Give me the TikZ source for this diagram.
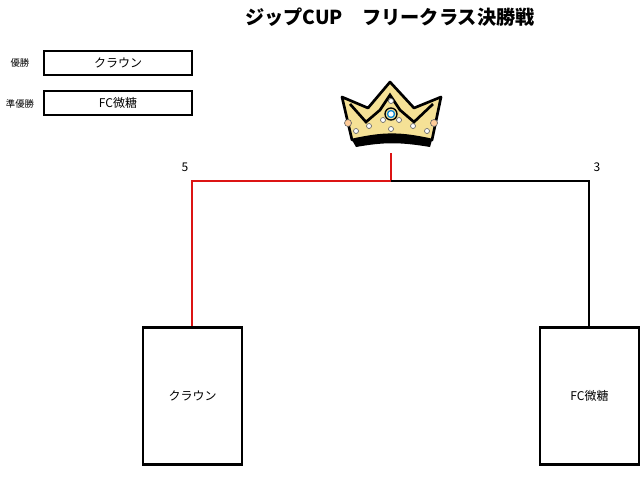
\documentclass[tikz,border=0pt]{standalone}
\usepackage{fontspec}
\setmainfont{Noto Sans CJK JP}
\definecolor{crownfill}{RGB}{245,225,150}
\definecolor{redl}{RGB}{220,20,20}
\begin{document}
\begin{tikzpicture}[x=0.75pt,y=-0.75pt,
  box/.style={draw,line width=0.8pt,minimum height=18pt,inner sep=0pt,font=\small},
  team/.style={draw,line width=1.8pt,inner sep=0pt,font=\small},
  lbl/.style={font=\scriptsize},
  jewel/.style={draw=black!60,fill=white,line width=0.5pt}]
\useasboundingbox (0,0) rectangle (641,476);
\node[font=\bfseries\Large] (title) at (390,17) {ジップCUP　フリークラス決勝戦};
\node[lbl] (l1) at (20,63) {優勝};
\node[lbl] (l2) at (20,104) {準優勝};
\node[box,minimum width=111pt] (w) at (118,63) {クラウン};
\node[box,minimum width=111pt] (r) at (118,103) {FC微糖};
% crown
\filldraw[fill=crownfill,line width=2pt,line join=round]
 (342,97) -- (368,108) -- (390,82) -- (414,108) -- (441,97) -- (432,140)
 .. controls (400,133) and (384,133) .. (352,140) -- cycle;
\draw[line width=2pt] (350,104) -- (366,122) -- (380,110) -- (390,95) -- (400,110) -- (414,122) -- (433,104);
\fill (352,140) .. controls (384,133) and (400,133) .. (432,140) -- (430,147) .. controls (400,142) and (384,142) .. (356,147) -- cycle;
\draw[jewel,fill=orange!40] (348,123) circle (3.5);
\draw[jewel,fill=orange!40] (434,123) circle (3.5);
\draw[jewel] (356,131) circle (2.5);
\draw[jewel] (427,131) circle (2.5);
\draw[jewel] (383,120) circle (2.5);
\draw[jewel] (399,120) circle (2.5);
\draw[jewel] (391,129) circle (2.5);
\draw[jewel] (391,101) circle (2.5);
\draw[jewel] (369,126) circle (2.5);
\draw[jewel] (413,126) circle (2.5);
\draw[fill=crownfill,line width=1pt] (391,114) circle (6);
\draw[draw=cyan!70!blue,fill=white,line width=1pt] (391,114) circle (3.5);
\coordinate (top) at (391,153);
\coordinate (j) at (391,181);
\coordinate (lc) at (192,181);
\coordinate (rc) at (589,181);
\node[team,minimum width=74pt,minimum height=103pt] (A) at (192.5,396) {クラウン};
\node[team,minimum width=74pt,minimum height=103pt] (B) at (589.5,396) {FC微糖};
\draw[redl,line width=1.2pt] (top) -- (j) -- (lc) -- (lc|-A.north);
\draw[line width=1.2pt] (j) -- (rc) -- (rc|-B.north);
\node[font=\small] (s1) at (185,167) {5};
\node[font=\small] (s2) at (597,167) {3};
\end{tikzpicture}
\end{document}
